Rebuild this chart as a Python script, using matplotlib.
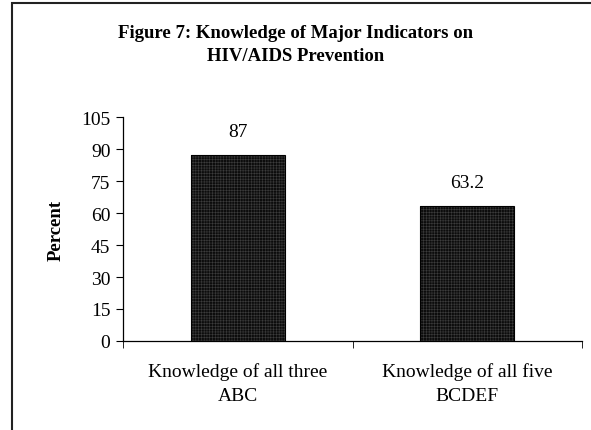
import matplotlib
matplotlib.use("Agg")
import matplotlib.pyplot as plt
from matplotlib.patches import Rectangle

categories = ["Knowledge of all three\nABC", "Knowledge of all five\nBCDEF"]
values = [87, 63.2]
value_labels = ["87", "63.2"]
yticks = [0, 15, 30, 45, 60, 75, 90, 105]

plt.rcParams['font.family'] = ['Liberation Serif', 'DejaVu Serif']
plt.rcParams['hatch.linewidth'] = 0.4

fig = plt.figure(figsize=(5.91, 4.31), dpi=100)
ax = fig.add_axes([0.2081, 0.2065, 0.7767, 0.5197])

# frame around the chart area (cut off on right and bottom)
fig.patches.append(Rectangle((12 / 591, -0.1), 1.2, 1 - 4 / 431 + 0.1,
                             transform=fig.transFigure, fill=False,
                             edgecolor='#222222', linewidth=1.5))

x = range(len(values))
# dotted dark fill, then a black outline on top
ax.bar(x, values, width=0.41, color='#0c0c0c', edgecolor='#3c3c3c',
       hatch='++++++', linewidth=0)
ax.bar(x, values, width=0.41, fill=False, edgecolor='#000000', linewidth=0.8)

for i, v in enumerate(values):
    ax.text(i, v + 7, value_labels[i], ha='center', va='bottom', fontsize=14)

ax.set_xlim(-0.5, 1.5)
ax.set_ylim(0, 105)
ax.set_yticks(yticks)
ax.set_xticks(list(x))
ax.set_xticklabels(categories, fontsize=14, linespacing=1.55)
ax.tick_params(axis='x', which='major', length=0, pad=15)
ax.set_xticks([-0.5, 0.5, 1.5], minor=True)
ax.tick_params(axis='x', which='minor', length=5, direction='out')
ax.tick_params(axis='y', labelsize=14, length=5, direction='out', pad=4)

for s in ['top', 'right']:
    ax.spines[s].set_visible(False)
ax.spines['left'].set_linewidth(0.9)
ax.spines['bottom'].set_linewidth(0.9)

ax.set_ylabel("Percent", fontsize=13.5, fontweight='bold', labelpad=12)
fig.text(0.5, 1 - 45 / 431, "Figure 7: Knowledge of Major Indicators on\nHIV/AIDS Prevention",
         ha='center', va='center', fontsize=13.5, fontweight='bold', linespacing=1.45)

fig.savefig("out.png", dpi=100)
